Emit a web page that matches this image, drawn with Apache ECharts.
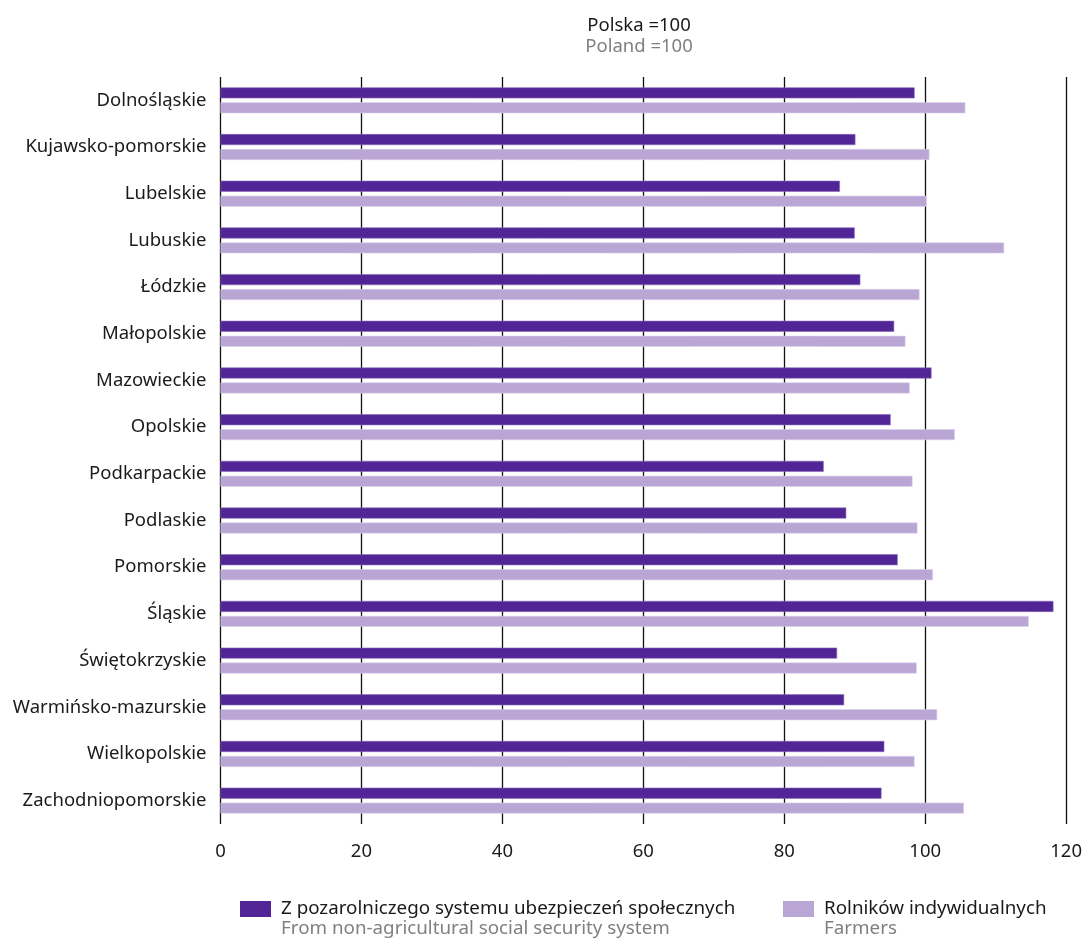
<!DOCTYPE html>
<html>
<head>
<meta charset="utf-8">
<script src="https://cdn.jsdelivr.net/npm/echarts@6/dist/echarts.min.js"></script>
<style>
html,body{margin:0;padding:0;background:#fff;}
#chart{width:1085px;height:938px;}
</style>
</head>
<body>
<div id="chart"></div>
<script>
const categories = ["Dolnośląskie","Kujawsko-pomorskie","Lubelskie","Lubuskie","Łódzkie","Małopolskie","Mazowieckie","Opolskie","Podkarpackie","Podlaskie","Pomorskie","Śląskie","Świętokrzyskie","Warmińsko-mazurskie","Wielkopolskie","Zachodniopomorskie"];
const nonAgricultural = [98.5,90.1,87.9,90.0,90.8,95.6,100.9,95.1,85.6,88.8,96.1,118.2,87.5,88.5,94.2,93.8];
const farmers = [105.7,100.6,100.2,111.2,99.2,97.2,97.8,104.2,98.2,98.9,101.1,114.7,98.8,101.7,98.5,105.5];
const xTicks = [0,20,40,60,80,100,120];
const seriesNames = ["Z pozarolniczego systemu ubezpieczeń społecznych","Rolników indywidualnych"];
const seriesNamesEn = ["From non-agricultural social security system","Farmers"];
const titleLines = ["Polska =100","Poland =100"];

const FONT = "Noto Sans";
const chart = echarts.init(document.getElementById('chart'), null, {renderer:'canvas'});
function legendFmt(i){ return '{e| }\n{a|' + seriesNames[i] + '}\n{b|' + seriesNamesEn[i] + '}'; }
const legendRich = {
  e:{fontSize:18,lineHeight:20,fontFamily:FONT},
  a:{fontSize:18.8,lineHeight:20,color:'#1a1a1a',fontFamily:FONT,padding:[0,0,0,5]},
  b:{fontSize:18.8,lineHeight:20,color:'#808080',fontFamily:FONT,padding:[0,0,0,5]}
};
chart.setOption({
  animation:false,
  title:{
    text:'{a|' + titleLines[0] + '}\n{b|' + titleLines[1] + '}',
    left:639, top:15, textAlign:'center', padding:0,
    textStyle:{fontWeight:'normal', rich:{
      a:{fontSize:18.5,lineHeight:21,color:'#1a1a1a',fontFamily:FONT,fontWeight:'normal'},
      b:{fontSize:18.5,lineHeight:21,color:'#808080',fontFamily:FONT,fontWeight:'normal'}
    }}
  },
  legend:[
    {data:[seriesNames[0]], left:240, top:880, padding:0, itemWidth:31, itemHeight:16, itemGap:0,
     icon:'rect', itemStyle:{borderWidth:0}, formatter:function(){return legendFmt(0);}, textStyle:{rich:legendRich}, selectedMode:false},
    {data:[seriesNames[1]], left:783, top:880, padding:0, itemWidth:31, itemHeight:16, itemGap:0,
     icon:'rect', itemStyle:{borderWidth:0}, formatter:function(){return legendFmt(1);}, textStyle:{rich:legendRich}, selectedMode:false}
  ],
  grid:{left:220.5, right:18, top:77, height:747, containLabel:false},
  xAxis:{
    type:'value', min:0, max:120, interval:20,
    axisLine:{show:false}, axisTick:{show:false},
    splitLine:{show:true, lineStyle:{color:'#111', width:1.3}},
    axisLabel:{fontSize:18.5, color:'#1a1a1a', fontFamily:FONT, margin:18,
      formatter:function(v){ return xTicks.indexOf(v) >= 0 ? String(v) : ''; }}
  },
  yAxis:{
    type:'category', data:categories, inverse:true,
    axisLine:{show:false}, axisTick:{show:false},
    axisLabel:{fontSize:18.5, color:'#1a1a1a', fontFamily:FONT, margin:14}
  },
  series:[
    {name:seriesNames[0], type:'bar', data:nonAgricultural, barWidth:11, barGap:'36%',
     itemStyle:{color:'#512596', borderColor:'#8a6bbb', borderWidth:0.6}},
    {name:seriesNames[1], type:'bar', data:farmers, barWidth:11, barGap:'36%',
     itemStyle:{color:'#b9a6d5', borderColor:'#ddd2ec', borderWidth:0.6}}
  ]
});
</script>
</body>
</html>
